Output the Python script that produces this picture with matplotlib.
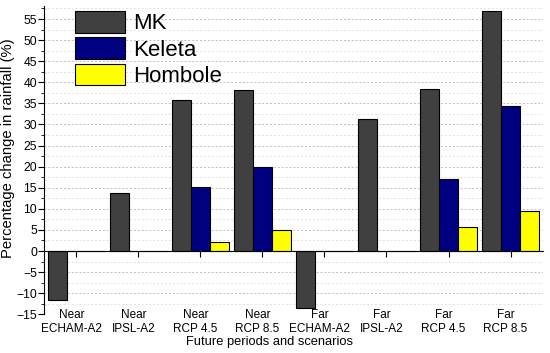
import matplotlib.pyplot as plt
import numpy as np
from matplotlib.ticker import MultipleLocator

plt.rcParams['font.family'] = ['Liberation Sans', 'DejaVu Sans']

periods = ['Near', 'Near', 'Near', 'Near', 'Far', 'Far', 'Far', 'Far']
scenarios = ['ECHAM-A2', 'IPSL-A2', 'RCP 4.5', 'RCP 8.5',
             'ECHAM-A2', 'IPSL-A2', 'RCP 4.5', 'RCP 8.5']
mk = [-11.6, 13.7, 35.8, 38.1, -13.4, 31.3, 38.4, 57.0]
keleta = [0, 0, 15.2, 20.0, 0, 0, 17.1, 34.4]
hombole = [0, 0, 2.2, 4.9, 0, 0, 5.8, 9.6]

series = [('MK', mk, '#404040'), ('Keleta', keleta, '#000080'),
          ('Hombole', hombole, '#ffff00')]

fig = plt.figure(figsize=(5.5, 3.53), dpi=100)
ax = fig.add_axes([0.08, 0.1096, 0.907, 0.8724])

x = np.arange(len(scenarios))
width = 0.305
for i, (name, vals, color) in enumerate(series):
    ax.bar(x + (i - 1) * width, vals, width, color=color,
           edgecolor='black', linewidth=0.8, label=name, zorder=3)

ax.set_xlim(-0.52, len(scenarios) - 0.48)
ax.set_ylim(-15, 58)
ax.yaxis.set_major_locator(MultipleLocator(5))
ax.yaxis.set_minor_locator(MultipleLocator(2.5))
ax.grid(axis='y', which='major', linestyle=(0, (2, 2)), color='#c0c0c0',
        linewidth=0.7, zorder=0)
ax.grid(axis='y', which='minor', linestyle=(0, (2, 2)), color='#e2e2e2',
        linewidth=0.7, zorder=0)

for side in ['top', 'right']:
    ax.spines[side].set_visible(False)
ax.spines['bottom'].set_position(('data', 0))
ax.spines['bottom'].set_zorder(4)
ax.set_xticks(x)
ax.set_xticklabels([])
ax.tick_params(axis='x', direction='out', length=4, width=0.8)
ax.tick_params(axis='y', which='major', direction='out', length=4,
               labelsize=8.8, pad=1)
ax.tick_params(axis='y', which='minor', direction='out', length=2)

trans = ax.get_xaxis_transform()
for xi, p, s in zip(x, periods, scenarios):
    ax.text(xi - 0.08, 0.017, p + '\n' + s, transform=trans, ha='center',
            va='top', fontsize=8.5, linespacing=1.2)

fig.text(269 / 550, 1 - 342 / 353, 'Future periods and scenarios',
         ha='center', va='center', fontsize=9.3)
ax.set_ylabel('Percentage change in rainfall (%)', fontsize=10.6)
ax.yaxis.set_label_coords(-0.058, 0.54)

ax.legend(loc='upper left', bbox_to_anchor=(0.062, 0.985), frameon=False,
          fontsize=16, handlelength=2.25, handleheight=1.13,
          labelspacing=0.13, handletextpad=0.36, borderpad=0,
          borderaxespad=0)

fig.savefig('out.png', dpi=100)
